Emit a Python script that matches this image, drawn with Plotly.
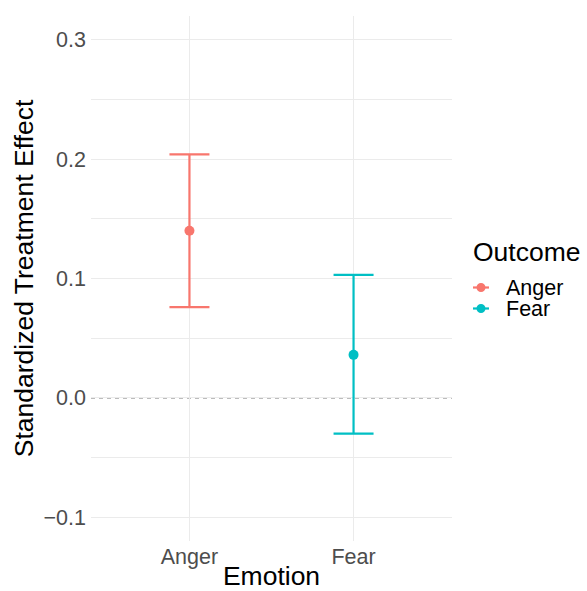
import plotly.graph_objects as go

# Estimated standardized treatment effects with 95% intervals
emotions = ["Anger", "Fear"]
estimates = [0.140, 0.036]
lower = [0.076, -0.030]
upper = [0.204, 0.103]
colors = ["#F8766D", "#00BFC4"]

y_ticks = [-0.1, 0.0, 0.1, 0.2, 0.3]
y_tick_labels = ["\u22120.1", "0.0", "0.1", "0.2", "0.3"]
y_limits = [-0.12, 0.32]
reference_value = 0.0

FONT = "Liberation Sans, Arial, sans-serif"
GRID = "#EBEBEB"

fig = go.Figure()

for emo, est, lo, hi, col in zip(emotions, estimates, lower, upper, colors):
    fig.add_trace(go.Scatter(
        x=[emo], y=[est], mode="markers", name=emo,
        marker=dict(color=col, size=10),
        error_y=dict(type="data", symmetric=False,
                     array=[hi - est], arrayminus=[est - lo],
                     color=col, thickness=2.2, width=20),
        showlegend=False,
    ))

# dashed reference line at zero, above the grid but beneath the intervals
fig.add_shape(type="line", xref="paper", x0=0, x1=1, yref="y",
              y0=reference_value, y1=reference_value,
              line=dict(color="#7A7A7A", width=1.2, dash="4px,4px"), layer="between")

# legend drawn by hand so that the key spacing stays compact
plot_left, plot_w = 91, 361
def px_to_paper(px):
    return (px - plot_left) / plot_w

plot_top, plot_h = 16, 525
def py_to_paper(py):
    return 1 - (py - plot_top) / plot_h

fig.add_annotation(text="Outcome", xref="paper", yref="paper",
                   x=px_to_paper(471), y=py_to_paper(252),
                   xanchor="left", yanchor="middle", showarrow=False,
                   font=dict(family=FONT, size=26.5, color="black"))
key_rows = [287.5, 308.5]
for emo, col, row in zip(emotions, colors, key_rows):
    fig.add_shape(type="line", xref="paper", yref="paper",
                  x0=px_to_paper(473), x1=px_to_paper(489),
                  y0=py_to_paper(row), y1=py_to_paper(row),
                  line=dict(color=col, width=2.2))
    fig.add_shape(type="circle", xref="paper", yref="paper",
                  xsizemode="pixel", ysizemode="pixel",
                  xanchor=px_to_paper(481), yanchor=py_to_paper(row),
                  x0=-4.5, x1=4.5, y0=-4.5, y1=4.5,
                  fillcolor=col, line=dict(width=0))
    fig.add_annotation(text=emo, xref="paper", yref="paper",
                       x=px_to_paper(504), y=py_to_paper(row),
                       xanchor="left", yanchor="middle", showarrow=False,
                       font=dict(family=FONT, size=21.5, color="black"))

fig.update_layout(
    width=587, height=591,
    margin=dict(l=91, r=135, t=16, b=50, autoexpand=False),
    paper_bgcolor="white", plot_bgcolor="white",
    font=dict(family=FONT),
    showlegend=False,
)
fig.update_xaxes(
    type="category", range=[-0.6, 1.6], automargin=False,
    showgrid=True, gridcolor=GRID, gridwidth=1.1,
    zeroline=False, showline=False, ticks="",
    tickfont=dict(family=FONT, size=21.5, color="#4D4D4D"),
    ticklabelstandoff=0,
    title=dict(text="Emotion", font=dict(family=FONT, size=26.5, color="black"), standoff=0),
)
fig.update_yaxes(
    range=y_limits, tickvals=y_ticks, ticktext=y_tick_labels, automargin=False,
    showgrid=True, gridcolor=GRID, gridwidth=1.1,
    minor=dict(tick0=0.05, dtick=0.1, showgrid=True, gridcolor=GRID, gridwidth=0.55),
    zeroline=False, showline=False, ticks="",
    tickfont=dict(family=FONT, size=21.5, color="#4D4D4D"),
    ticklabelstandoff=4,
    title=dict(text="Standardized Treatment Effect",
               font=dict(family=FONT, size=26.5, color="black"), standoff=2),
)

fig.write_html("out.html")
